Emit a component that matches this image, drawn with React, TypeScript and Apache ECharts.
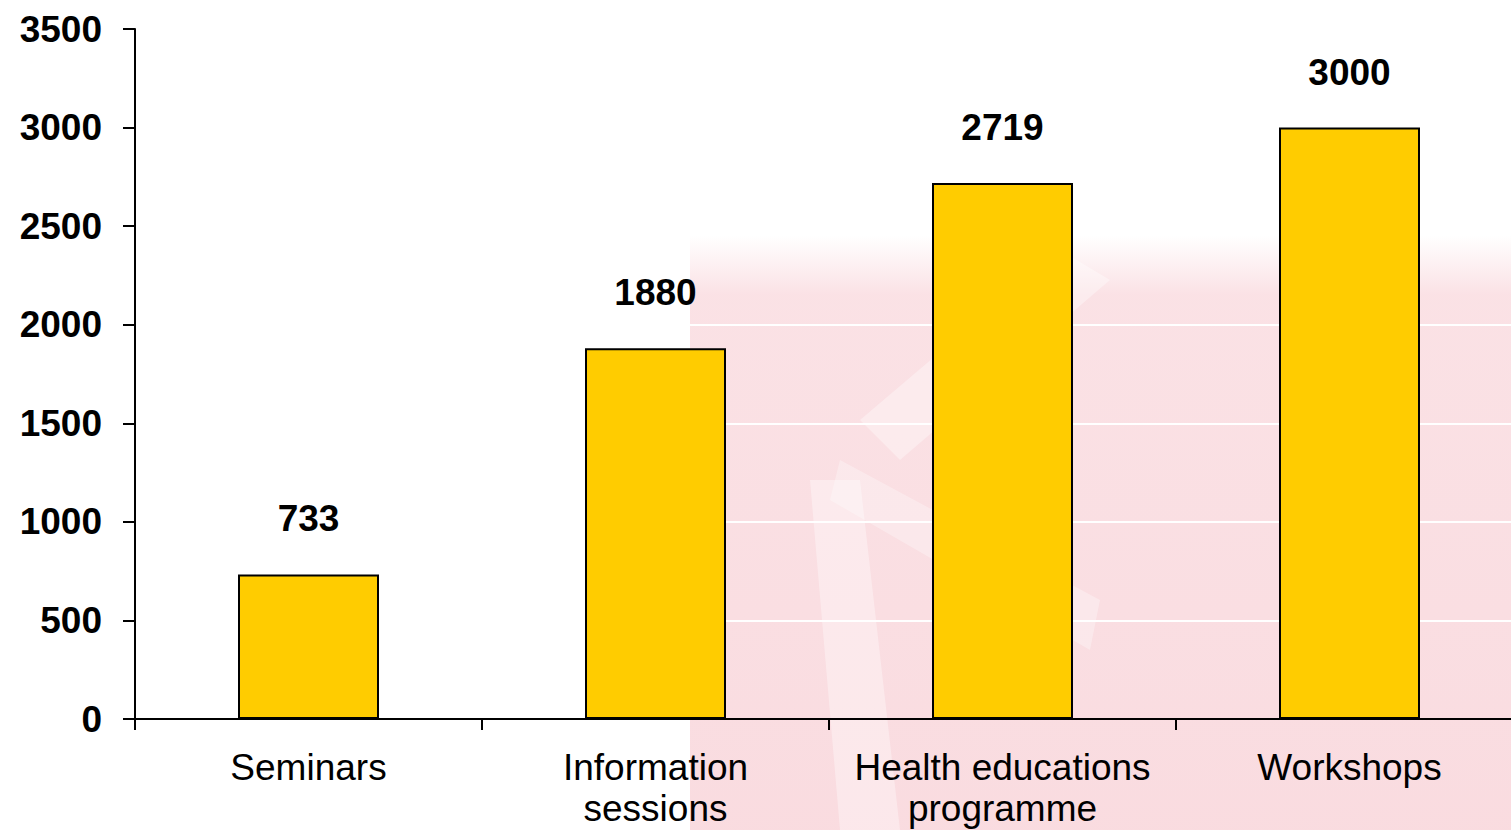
import React, { useEffect, useRef } from "react";
import * as echarts from "echarts";

const categories = ["Seminars", "Information\nsessions", "Health educations\nprogramme", "Workshops"];
const values = [733, 1880, 2719, 3000];
const yTicks = [0, 500, 1000, 1500, 2000, 2500, 3000, 3500];

export default function App() {
  const ref = useRef<HTMLDivElement>(null);
  useEffect(() => {
    if (!ref.current) return;
    const chart = echarts.init(ref.current, null, { renderer: "svg" });
    const font = "Arial, 'Liberation Sans', Helvetica, sans-serif";
    chart.setOption({
      animation: false,
      backgroundColor: "#ffffff",
      graphic: [
        {
          type: "rect",
          z: -10,
          silent: true,
          shape: { x: 690, y: 235, width: 840, height: 600 },
          style: {
            fill: new echarts.graphic.LinearGradient(0, 0, 0, 1, [
              { offset: 0, color: "rgba(246,196,203,0)" },
              { offset: 0.1, color: "rgba(246,196,203,0.5)" },
              { offset: 1, color: "rgba(246,196,203,0.6)" },
            ]),
          },
        },
        {
          type: "polygon",
          z: -9,
          silent: true,
          shape: { points: [[860, 420], [1060, 250], [1110, 280], [900, 460]] },
          style: { fill: "rgba(255,255,255,0.35)" },
        },
        {
          type: "polygon",
          z: -9,
          silent: true,
          shape: { points: [[840, 460], [1100, 600], [1090, 650], [830, 500]] },
          style: { fill: "rgba(255,255,255,0.3)" },
        },
        {
          type: "polygon",
          z: -9,
          silent: true,
          shape: { points: [[810, 480], [860, 480], [900, 830], [840, 830]] },
          style: { fill: "rgba(255,255,255,0.35)" },
        },
      ],
      grid: { left: 135, top: 29, width: 1388, height: 690, containLabel: false },
      xAxis: {
        type: "category",
        data: categories,
        axisLine: { lineStyle: { color: "#000", width: 2 } },
        axisTick: { show: true, length: 11, lineStyle: { color: "#000", width: 2 }, alignWithLabel: false },
        axisLabel: {
          color: "#000",
          fontSize: 37,
          fontFamily: font,
          margin: 28,
          lineHeight: 41,
          interval: 0,
        },
        splitLine: { show: false },
      },
      yAxis: {
        type: "value",
        min: 0,
        max: 3500,
        interval: 500,
        axisLine: { show: true, lineStyle: { color: "#000", width: 2 } },
        axisTick: { show: true, length: 12, lineStyle: { color: "#000", width: 2 } },
        axisLabel: {
          color: "#000",
          fontSize: 37,
          fontWeight: "bold",
          fontFamily: font,
          margin: 33,
          formatter: (v: number) => (yTicks.includes(v) ? String(v) : ""),
        },
        splitLine: { show: true, lineStyle: { color: "#ffffff", width: 2 } },
      },
      series: [
        {
          type: "bar",
          data: values,
          barWidth: 141,
          itemStyle: { color: "#FFCC00", borderColor: "#000", borderWidth: 2 },
          label: {
            show: true,
            position: "top",
            distance: 37,
            color: "#000",
            fontSize: 37,
            fontWeight: "bold",
            fontFamily: font,
          },
        },
      ],
    });
    return () => chart.dispose();
  }, []);
  return (
    <div
      style={{ position: "fixed", left: 0, top: 0, width: 1511, height: 830, overflow: "hidden" }}
    >
      <div ref={ref} style={{ width: 1535, height: 830 }} />
    </div>
  );
}
